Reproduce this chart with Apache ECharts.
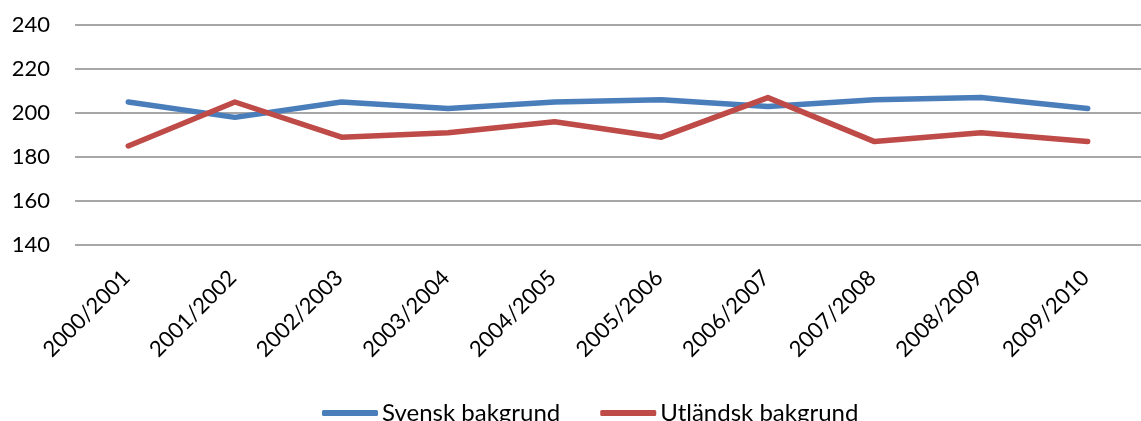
<!DOCTYPE html>
<html>
<head>
<meta charset="utf-8">
<script src="https://cdn.jsdelivr.net/npm/echarts@6/dist/echarts.min.js"></script>
<style>
  html, body { margin: 0; padding: 0; background: #fff; }
  #chart { width: 1141px; height: 421px; }
</style>
</head>
<body>
<div id="chart"></div>
<script>
// School years on the category axis
const years = ['2000/2001', '2001/2002', '2002/2003', '2003/2004', '2004/2005',
               '2005/2006', '2006/2007', '2007/2008', '2008/2009', '2009/2010'];
// Series values
const svensk = [205, 198, 205, 202, 205, 206, 203, 206, 207, 202];
const utlandsk = [185, 205, 189, 191, 196, 189, 207, 187, 191, 187];
const seriesNames = ['Svensk bakgrund', 'Utländsk bakgrund'];
// Value axis ticks
const yMin = 140, yMax = 240, yStep = 20;

const font = 'Lato, "Noto Sans", sans-serif';
const chart = echarts.init(document.getElementById('chart'), null, { renderer: 'canvas' });
chart.setOption({
  animation: false,
  backgroundColor: '#ffffff',
  grid: { left: 75, top: 25, height: 220, width: 1076, containLabel: false },
  legend: {
    data: seriesNames,
    left: 317,
    top: 396,
    itemWidth: 56,
    itemHeight: 6,
    itemGap: 40,
    icon: 'roundRect',
    textStyle: { fontFamily: font, fontSize: 24, color: '#000', padding: [0, 0, 0, -1] }
  },
  xAxis: {
    type: 'category',
    data: years,
    boundaryGap: true,
    axisLine: { show: false },
    axisTick: { show: false },
    axisLabel: { rotate: 45, margin: 27, padding: [0, 3, 0, 0], fontFamily: font, fontSize: 22, color: '#000', interval: 0 }
  },
  yAxis: {
    type: 'value',
    min: yMin, max: yMax, interval: yStep,
    axisLine: { show: false },
    axisTick: { show: false },
    axisLabel: { margin: 25, fontFamily: font, fontSize: 22, color: '#000' },
    splitLine: { lineStyle: { color: '#8a8a8a', width: 1.5 } }
  },
  series: [
    {
      name: seriesNames[0], type: 'line', data: svensk,
      showSymbol: false, symbol: 'none',
      lineStyle: { color: '#4a7ebb', width: 5.5, cap: 'round', join: 'round' },
      itemStyle: { color: '#4a7ebb' }
    },
    {
      name: seriesNames[1], type: 'line', data: utlandsk,
      showSymbol: false, symbol: 'none',
      lineStyle: { color: '#be4b48', width: 5.5, cap: 'round', join: 'round' },
      itemStyle: { color: '#be4b48' }
    }
  ]
});
</script>
</body>
</html>
